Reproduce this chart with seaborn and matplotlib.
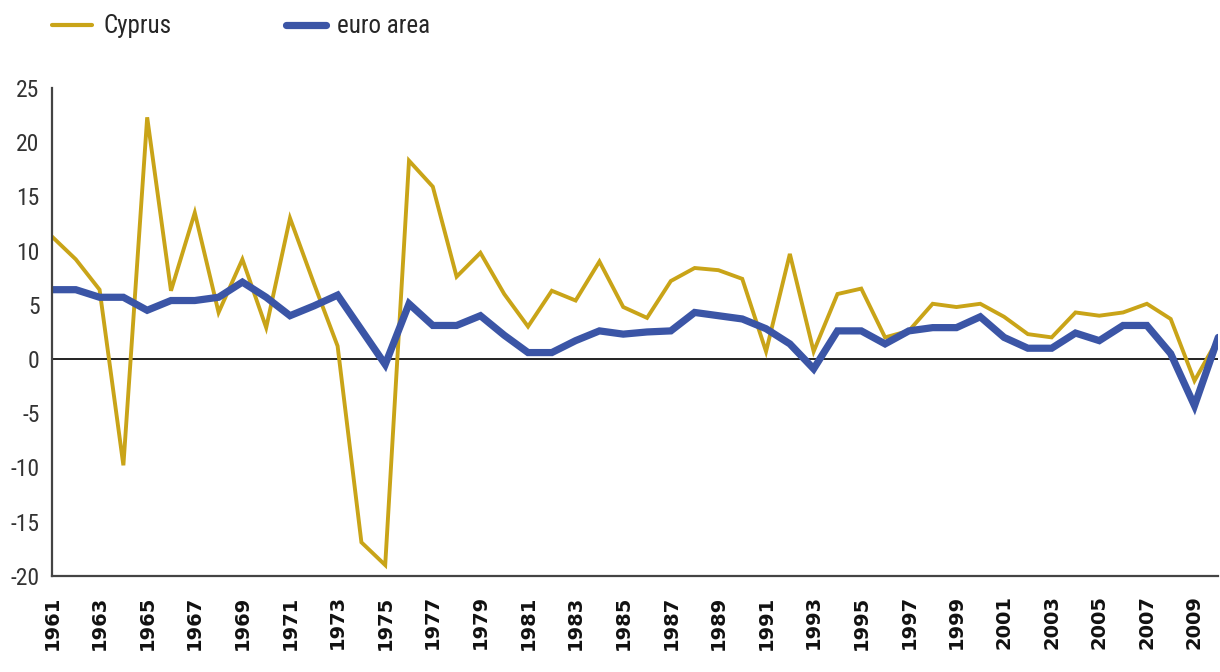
import numpy as np
import pandas as pd
import matplotlib
matplotlib.use("Agg")
import matplotlib.pyplot as plt
import seaborn as sns
from matplotlib import font_manager
from matplotlib.lines import Line2D

years = list(range(1961, 2011))
cyprus = [11.3, 9.2, 6.4, -9.8, 22.3, 6.3, 13.5, 4.3, 9.2, 2.9,
          13.0, 7.0, 1.2, -16.9, -19.0, 18.3, 15.9, 7.6, 9.8, 6.0,
          3.0, 6.3, 5.4, 9.0, 4.8, 3.8, 7.2, 8.4, 8.2, 7.4,
          0.7, 9.7, 0.7, 6.0, 6.5, 2.0, 2.6, 5.1, 4.8, 5.1,
          3.9, 2.3, 2.0, 4.3, 4.0, 4.3, 5.1, 3.7, -2.0, 1.9]
euro_area = [6.4, 6.4, 5.7, 5.7, 4.5, 5.4, 5.4, 5.7, 7.1, 5.7,
             4.0, 4.9, 5.9, 2.7, -0.5, 5.1, 3.1, 3.1, 4.0, 2.2,
             0.6, 0.6, 1.7, 2.6, 2.3, 2.5, 2.6, 4.3, 4.0, 3.7,
             2.8, 1.4, -0.9, 2.6, 2.6, 1.4, 2.6, 2.9, 2.9, 3.9,
             2.0, 1.0, 1.0, 2.4, 1.7, 3.1, 3.1, 0.5, -4.3, 2.0]
series_names = ["Cyprus", "euro area"]
y_ticks = [25, 20, 15, 10, 5, 0, -5, -10, -15, -20]
x_tick_years = list(range(1961, 2011, 2))

df = pd.DataFrame({
    "year": years * 2,
    "value": cyprus + euro_area,
    "series": [series_names[0]] * len(years) + [series_names[1]] * len(years),
})

sns.set_theme(style="white")
installed = {f.name for f in font_manager.fontManager.ttflist}
narrow = None
for cand in ["Liberation Sans Narrow", "Roboto Condensed", "Open Sans Condensed", "DejaVu Sans Condensed"]:
    if cand in installed:
        narrow = cand
        break
if narrow is None:
    narrow = "DejaVu Sans"
plt.rcParams["font.family"] = [narrow, "DejaVu Sans"]

fig = plt.figure(figsize=(12.2, 6.72), dpi=100)
ax = fig.add_axes([0.0426, 0.143, 0.956, 0.726])

gold = "#C9A418"
blue = "#3B55A6"
sns.lineplot(data=df, x="year", y="value", hue="series", size="series",
             palette={series_names[0]: gold, series_names[1]: blue},
             sizes={series_names[0]: 2.8, series_names[1]: 5.2},
             ax=ax, legend=False)
for ln in ax.get_lines():
    ln.set_solid_joinstyle("miter")
ax.axhline(0, color="#222222", lw=1.4, zorder=1)

ax.set_xlim(1961, 2010)
ax.set_ylim(-20, 25)
ax.set_yticks(y_ticks)
ax.set_yticklabels([str(v) for v in y_ticks], fontsize=17, color="#333333")
ax.set_xticks(x_tick_years)
ax.set_xticklabels([str(v) for v in x_tick_years], rotation=90, fontsize=14,
                   fontweight="bold", family="DejaVu Sans", color="#111111")
ax.set_xlabel("")
ax.set_ylabel("")
for s in ["top", "right"]:
    ax.spines[s].set_visible(False)
for s in ["left", "bottom"]:
    ax.spines[s].set_color("#444444")
    ax.spines[s].set_linewidth(1.6)
ax.tick_params(axis="y", direction="out", length=6, width=1.4, color="#444444", pad=3)
ax.tick_params(axis="x", direction="out", length=8, width=1.4, color="#444444", pad=6)

handles = [Line2D([0], [0], color=gold, lw=3.0), Line2D([0], [0], color=blue, lw=5.2)]
fig.legend(handles, series_names, loc="upper left", bbox_to_anchor=(0.024, 1.012),
           ncol=2, frameon=False, fontsize=18, handlelength=1.6, handletextpad=0.45,
           columnspacing=4.6)

fig.savefig("out.png", dpi=100)
